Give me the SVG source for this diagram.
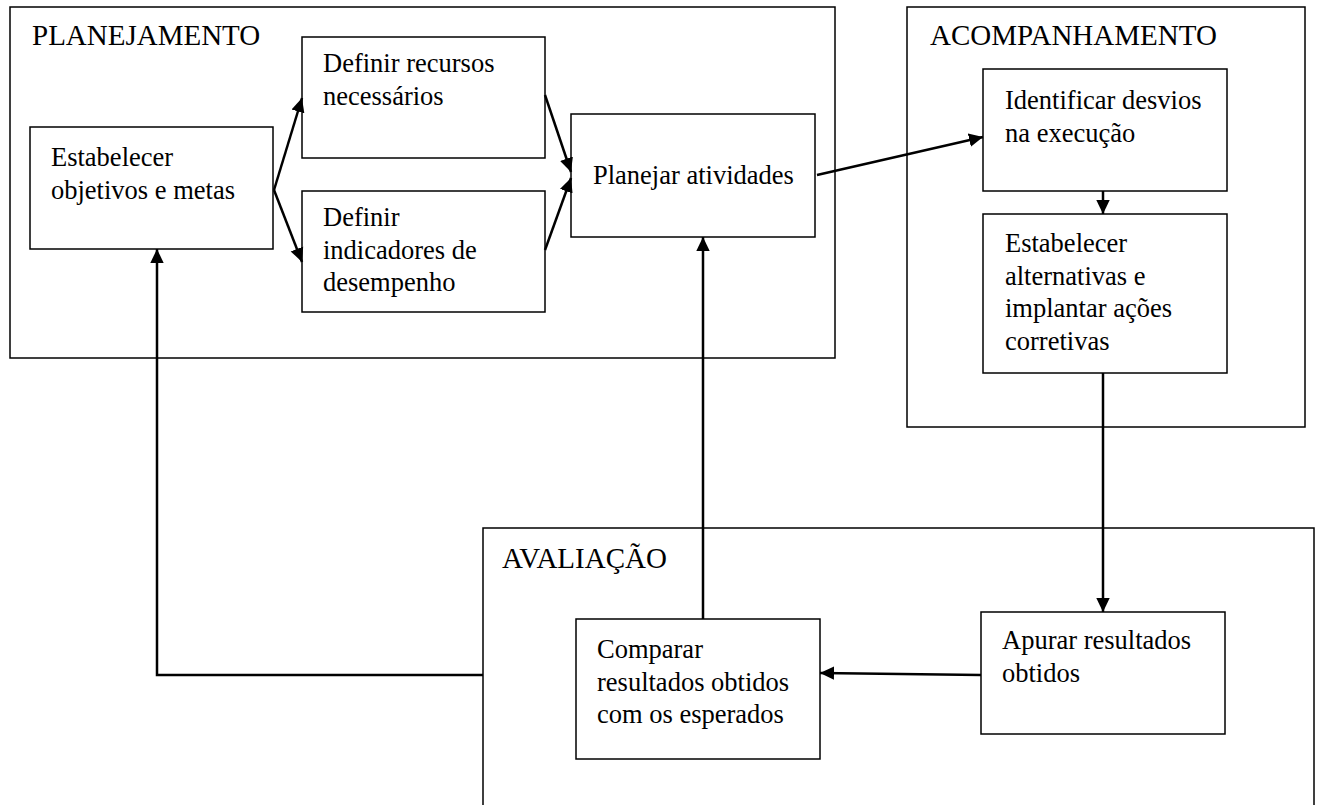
<svg xmlns="http://www.w3.org/2000/svg" width="1324" height="805" viewBox="0 0 1324 805">
  <style>
    .area { fill: none; stroke: #000; stroke-width: 1.5; }
    .box { fill: #fff; stroke: #000; stroke-width: 1.5; }
    .title { font-family: "Liberation Serif", "Times New Roman", serif; font-size: 29px; fill: #000; }
    .txt { font-family: "Liberation Serif", "Times New Roman", serif; font-size: 26.5px; fill: #000; }
    .link { fill: none; stroke: #000; stroke-width: 2.5; marker-end: url(#arrow); }
  </style>
  <defs>
    <marker id="arrow" markerUnits="userSpaceOnUse" markerWidth="15" markerHeight="15" refX="14" refY="7.5" orient="auto">
      <path d="M0,0.8 L14,7.5 L0,14.2 z" fill="#000"/>
    </marker>
  </defs>

  <rect width="1324" height="805" fill="#fff"/>

  <!-- Phase areas -->
  <g id="planejamento">
    <rect class="area" x="10" y="7" width="825" height="351"/>
    <text class="title" x="32" y="45">PLANEJAMENTO</text>
  </g>
  <g id="acompanhamento">
    <rect class="area" x="907" y="7" width="398" height="420"/>
    <text class="title" x="930" y="45">ACOMPANHAMENTO</text>
  </g>
  <g id="avaliacao">
    <rect class="area" x="483" y="528" width="831" height="300"/>
    <text class="title" x="502" y="568">AVALIAÇÃO</text>
  </g>

  <!-- Steps -->
  <g id="estabelecer-objetivos">
    <rect class="box" x="30" y="127" width="243" height="122"/>
    <text class="txt" x="51" y="166">Estabelecer</text>
    <text class="txt" x="51" y="198.5">objetivos e metas</text>
  </g>
  <g id="definir-recursos">
    <rect class="box" x="302" y="37" width="243" height="121"/>
    <text class="txt" x="323" y="72">Definir recursos</text>
    <text class="txt" x="323" y="104.5">necessários</text>
  </g>
  <g id="definir-indicadores">
    <rect class="box" x="302" y="191" width="243" height="121"/>
    <text class="txt" x="323" y="226">Definir</text>
    <text class="txt" x="323" y="258.5">indicadores de</text>
    <text class="txt" x="323" y="291">desempenho</text>
  </g>
  <g id="planejar-atividades">
    <rect class="box" x="571" y="114" width="244" height="123"/>
    <text class="txt" x="593" y="184">Planejar atividades</text>
  </g>
  <g id="identificar-desvios">
    <rect class="box" x="983" y="69" width="244" height="122"/>
    <text class="txt" x="1005" y="109">Identificar desvios</text>
    <text class="txt" x="1005" y="141.5">na execução</text>
  </g>
  <g id="estabelecer-alternativas">
    <rect class="box" x="983" y="214" width="244" height="159"/>
    <text class="txt" x="1005" y="252">Estabelecer</text>
    <text class="txt" x="1005" y="284.5">alternativas e</text>
    <text class="txt" x="1005" y="317">implantar ações</text>
    <text class="txt" x="1005" y="349.5">corretivas</text>
  </g>
  <g id="apurar-resultados">
    <rect class="box" x="981" y="612" width="244" height="122"/>
    <text class="txt" x="1002" y="649">Apurar resultados</text>
    <text class="txt" x="1002" y="681.5">obtidos</text>
  </g>
  <g id="comparar-resultados">
    <rect class="box" x="576" y="619" width="244" height="140"/>
    <text class="txt" x="597" y="658">Comparar</text>
    <text class="txt" x="597" y="690.5">resultados obtidos</text>
    <text class="txt" x="597" y="723">com os esperados</text>
  </g>

  <!-- Connectors -->
  <g id="connectors">
    <path class="link" d="M274,190 L302,98"/>
    <path class="link" d="M274,190 L302,262"/>
    <path class="link" d="M545,95 L571,172"/>
    <path class="link" d="M545,250 L571,178"/>
    <path class="link" d="M817,175 L983,137"/>
    <path class="link" d="M1103,191 L1103,214"/>
    <path class="link" d="M1103,373 L1103,612"/>
    <path class="link" d="M981,675 L820,673"/>
    <path class="link" d="M703,619 L703,237"/>
    <path class="link" d="M483,675 L157,675 L157,249"/>
  </g>
</svg>
